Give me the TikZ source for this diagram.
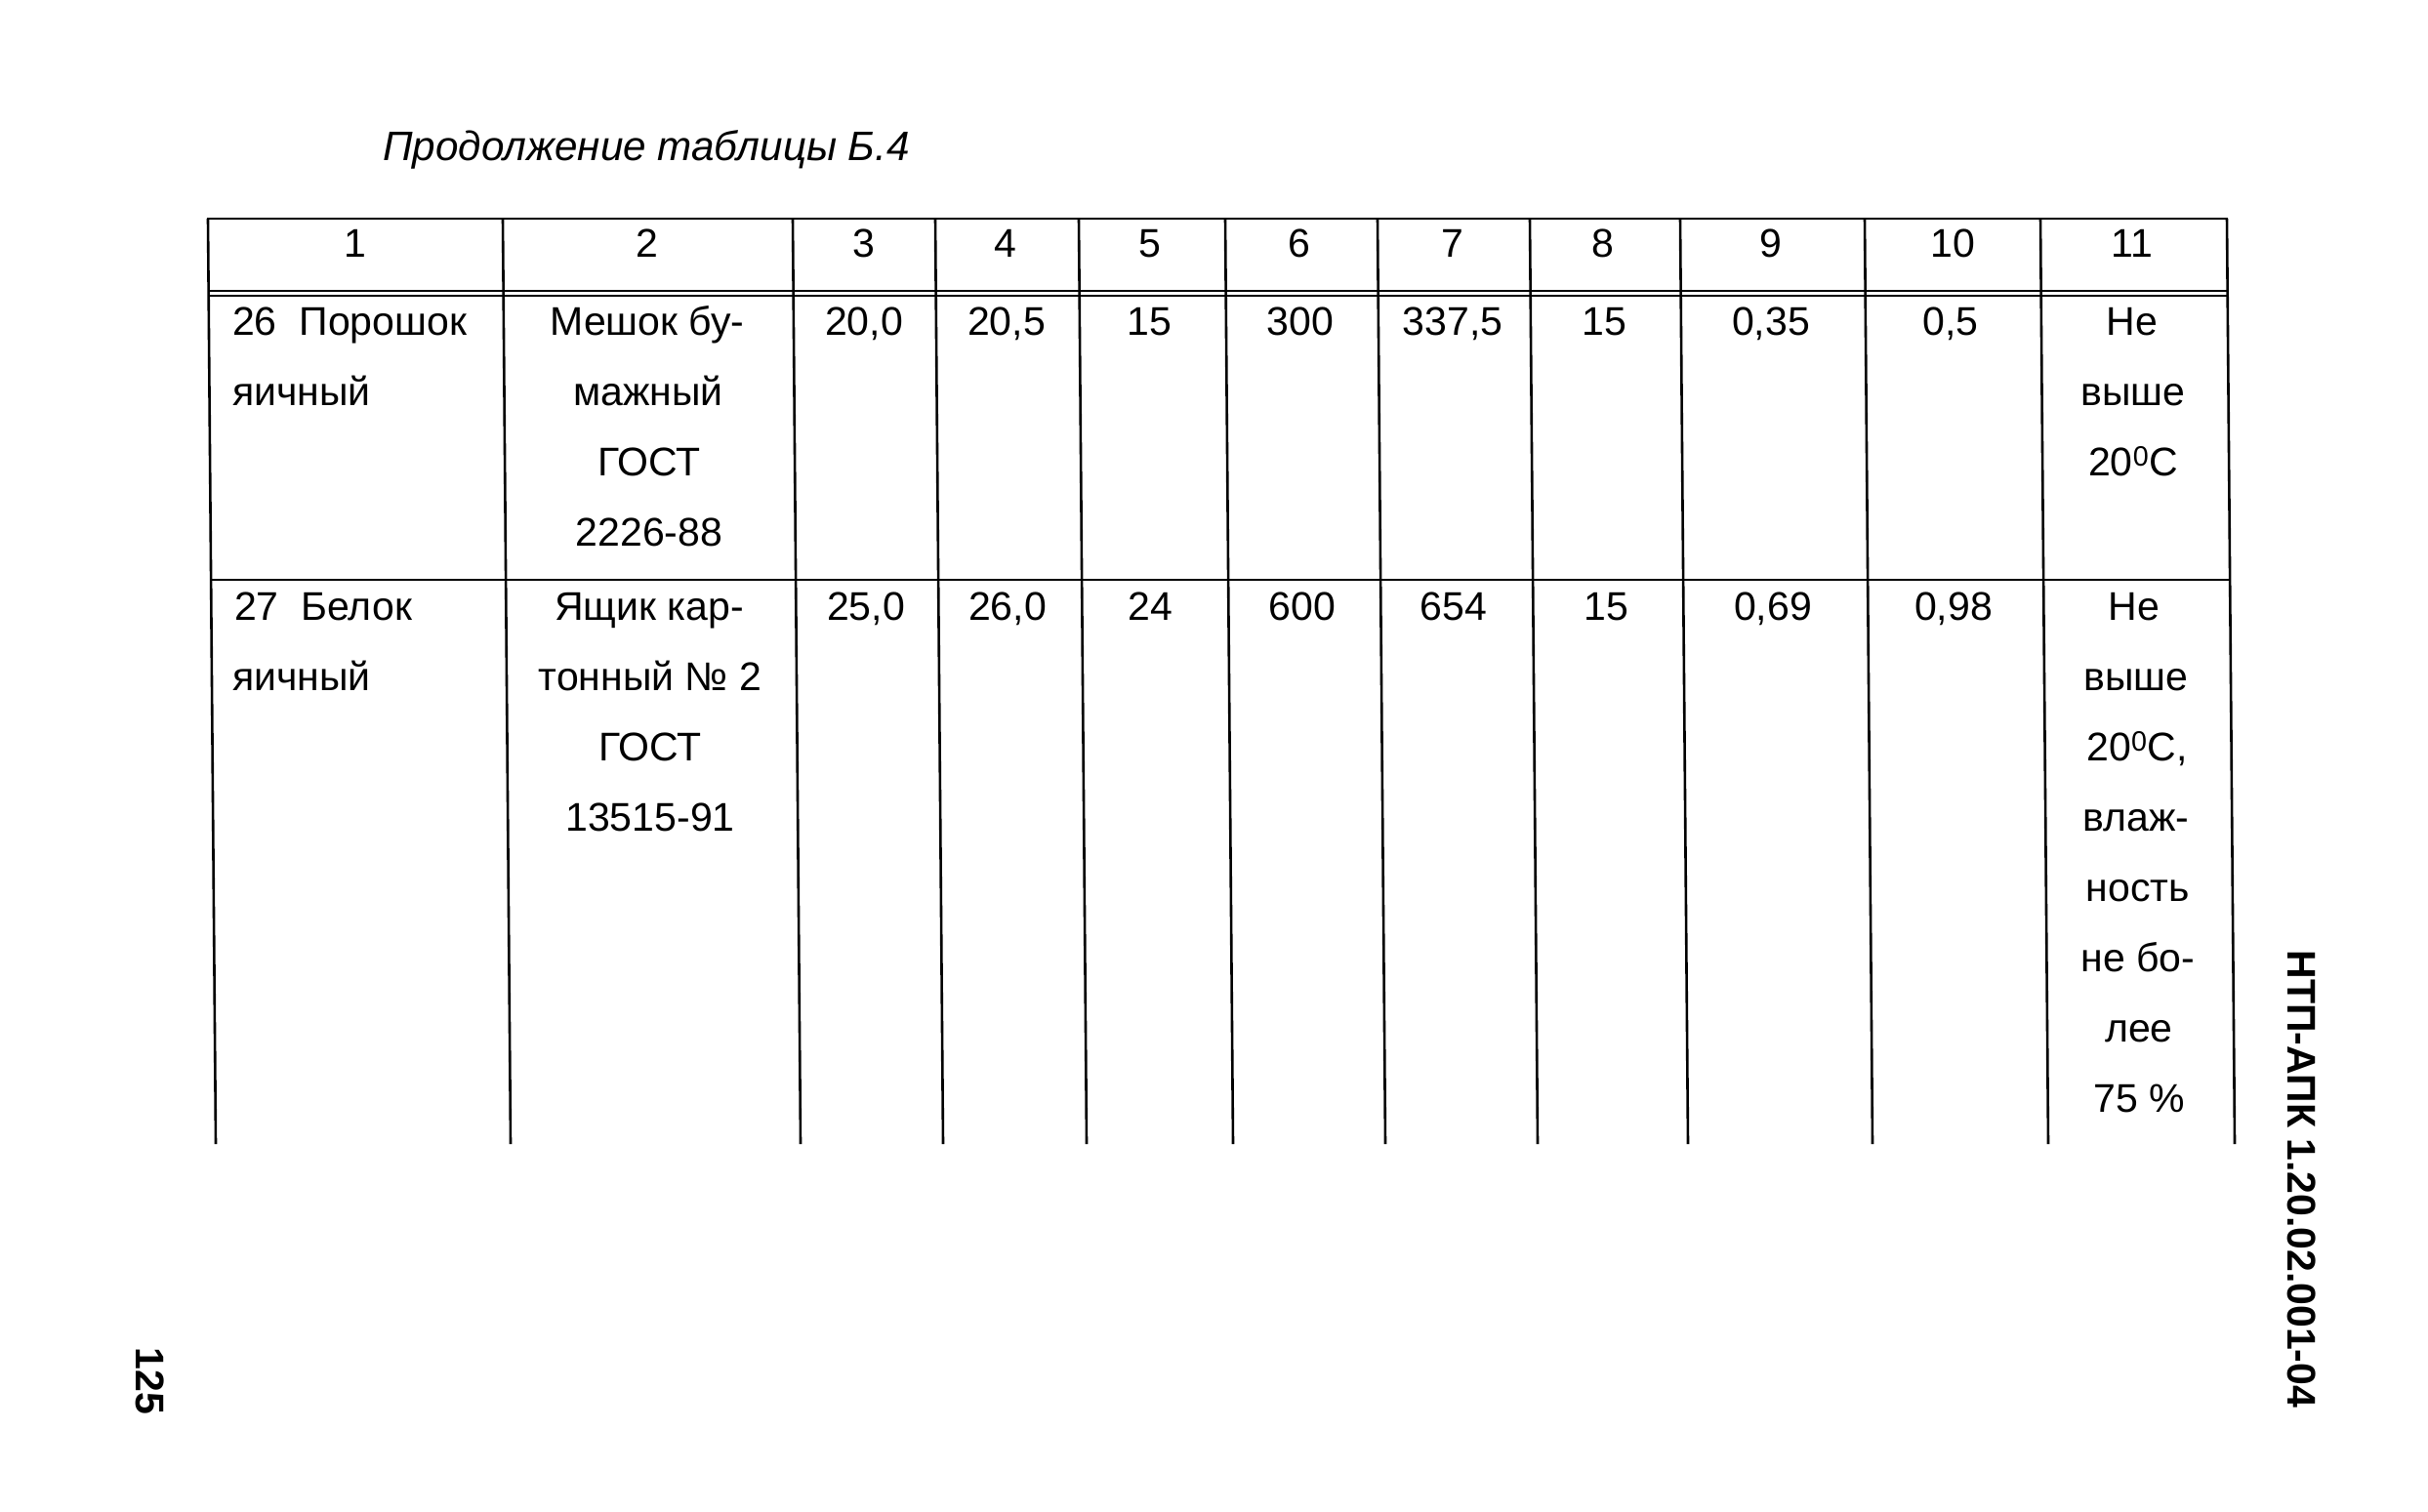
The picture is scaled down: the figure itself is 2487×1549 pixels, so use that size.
\documentclass[tikz,border=0pt]{standalone}
\usepackage{fontspec}
\setmainfont{Liberation Sans}
\begin{document}
\begin{tikzpicture}[x=1pt,y=-1pt,
  txt/.style={font=\fontsize{41}{72}\selectfont, inner sep=0pt, anchor=base},
  txtl/.style={txt, anchor=base west},
  side/.style={font=\fontsize{41}{50}\selectfont\bfseries, inner sep=0pt, rotate=-90, anchor=center},
  gridline/.style={line width=2.6pt, line cap=butt},
  thinline/.style={line width=2pt, line cap=butt}]
\useasboundingbox (0,0) rectangle (2487,1549);
% title
\node[txtl, font=\fontsize{42.2}{50}\selectfont\itshape] (title) at (392,165) {Продолжение таблицы Б.4};
% grid
\foreach \t/\b in {213/221,515/523,812/820,958/966,1105/1113,1255/1263,1411/1419,1567/1575,1721/1729,1910/1918,2090/2098,2281/2289}
  \draw[gridline] (\t,224) -- (\b,1172);
\draw[gridline] (212,224) -- (2282,224);
\draw[thinline] (213,298) -- (2282,298);
\draw[thinline] (213,302.5) -- (2282,302.5);
\draw[gridline] (215,594) -- (2285,594);
% header
\foreach \n/\x in {1/364,2/663,3/885,4/1030,5/1178,6/1331,7/1488,8/1642,9/1814,10/2000,11/2184}
  \node[txt] (h\n) at (\x,263) {\n};
% row 26
\node[txtl] (a1) at (238,343) {26\ \ Порошок};
\node[txtl] (a2) at (238,415) {яичный};
\node[txt] (b1) at (663,343) {Мешок бу-};
\node[txt] (b2) at (664,415) {мажный};
\node[txt] (b3) at (665,487) {ГОСТ};
\node[txt] (b4) at (665,559) {2226-88};
\node[txt] (c3) at (885,343) {20,0};
\node[txt] (c4) at (1031,343) {20,5};
\node[txt] (c5) at (1177,343) {15};
\node[txt] (c6) at (1332,343) {300};
\node[txt] (c7) at (1488,343) {337,5};
\node[txt] (c8) at (1643,343) {15};
\node[txt] (c9) at (1814,343) {0,35};
\node[txt] (c10) at (1998,343) {0,5};
\node[txt] (d1) at (2184,343) {Не};
\node[txt] (d2) at (2185,415) {выше};
\node[txt] (d3) at (2185,487) {20\textsuperscript{0}С};
% row 27
\node[txtl] (e1) at (240,635) {27\ \ Белок};
\node[txtl] (e2) at (238,707) {яичный};
\node[txt] (f1) at (665,635) {Ящик кар-};
\node[txt] (f2) at (666,707) {тонный № 2};
\node[txt] (f3) at (666,779) {ГОСТ};
\node[txt] (f4) at (666,851) {13515-91};
\node[txt] (g3) at (887,635) {25,0};
\node[txt] (g4) at (1032,635) {26,0};
\node[txt] (g5) at (1178,635) {24};
\node[txt] (g6) at (1334,635) {600};
\node[txt] (g7) at (1489,635) {654};
\node[txt] (g8) at (1645,635) {15};
\node[txt] (g9) at (1816,635) {0,69};
\node[txt] (g10) at (2001,635) {0,98};
\node[txt] (k1) at (2186,635) {Не};
\node[txt] (k2) at (2188,707) {выше};
\node[txt] (k3) at (2189,779) {20\textsuperscript{0}С,};
\node[txt] (k4) at (2188,851) {влаж-};
\node[txt] (k5) at (2190,923) {ность};
\node[txt] (k6) at (2190,995) {не бо-};
\node[txt] (k7) at (2191,1067) {лее};
\node[txt] (k8) at (2191,1139) {75 \%};
% side texts
\node[side] (page) at (154,1415) {125};
\node[side] (code) at (2358,1208) {НТП-АПК 1.20.02.001-04};
\end{tikzpicture}
\end{document}
